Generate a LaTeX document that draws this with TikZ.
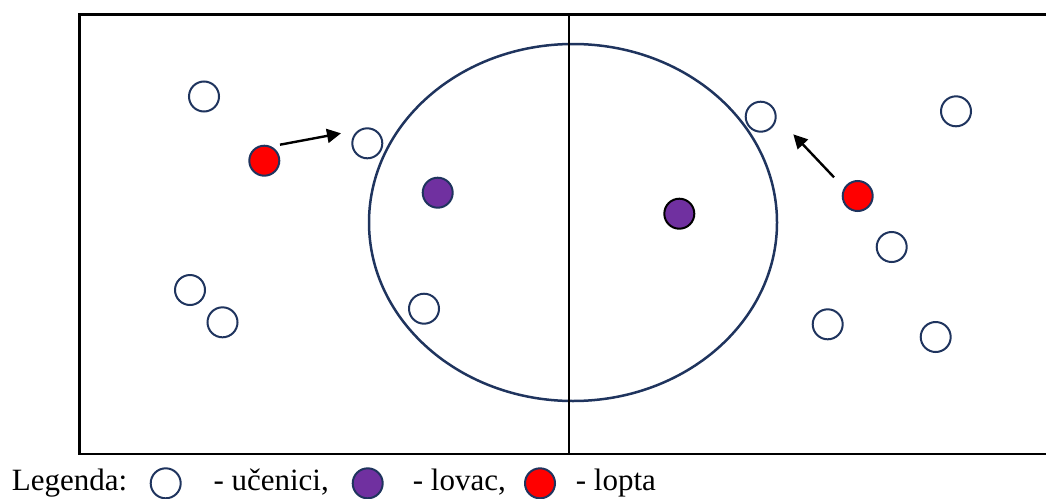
\documentclass[tikz,border=0pt]{standalone}
\usepackage{fontspec}
\setmainfont{Liberation Serif}
\usetikzlibrary{arrows.meta}
\definecolor{navy}{RGB}{31,52,94}
\definecolor{lpurple}{RGB}{112,48,160}
\begin{document}
\begin{tikzpicture}[x=1pt,y=-1pt,
  player/.style={circle,draw=navy,line width=2pt,minimum size=30pt,inner sep=0pt},
  student/.style={player,fill=white},
  ball/.style={player,fill=red},
  chaser/.style={player,fill=lpurple},
  pass/.style={line width=2.4pt,-{Triangle[length=14pt,width=14pt]}},
  legtext/.style={anchor=base west,inner sep=0pt,font=\fontsize{31}{31}\selectfont}]
\useasboundingbox (0,0) rectangle (1046,498);
\clip (0,0) rectangle (1046,498);
% field
\draw[line width=2.5pt] (1060,14.3) -- (79.7,14.3) -- (79.7,454) -- (1060,454);
\draw[navy,line width=2.5pt] (573,222.5) ellipse [x radius=204pt, y radius=178.5pt];
\draw[line width=2pt] (569,14.3) -- (569,454);
% players
\node[student] (s1) at (204,96.5) {};
\node[student] (s2) at (367.3,143.3) {};
\node[student] (s3) at (190,290) {};
\node[student] (s4) at (222.5,322.3) {};
\node[student] (s5) at (424,308.7) {};
\node[student] (s6) at (760.7,116.7) {};
\node[student] (s7) at (956,111.3) {};
\node[student] (s8) at (891.7,247) {};
\node[student] (s9) at (827.7,324.3) {};
\node[student] (s10) at (935.7,337) {};
\node[ball] (b1) at (264.3,160.7) {};
\node[ball] (b2) at (857.7,196) {};
\node[chaser] (c1) at (437.7,192.7) {};
\node[chaser,draw=black] (c2) at (679.3,213.7) {};
% passes
\coordinate (p1a) at (280,144.7);
\coordinate (p1b) at (341,133.3);
\coordinate (p2a) at (834,177.3);
\coordinate (p2b) at (793.3,134.3);
\draw[pass] (p1a) -- (p1b);
\draw[pass] (p2a) -- (p2b);
% legend
\node[legtext] (lg) at (11.7,490.7) {Legenda:};
\node[student] (legS) at (165.7,483.3) {};
\node[legtext] (lgS) at (213.3,490.7) {- učenici,};
\node[chaser] (legC) at (367.7,483.3) {};
\node[legtext] (lgC) at (412.7,490.7) {- lovac,};
\node[ball] (legB) at (540,483.3) {};
\node[legtext] (lgB) at (575.7,490.7) {- lopta};
\end{tikzpicture}
\end{document}
